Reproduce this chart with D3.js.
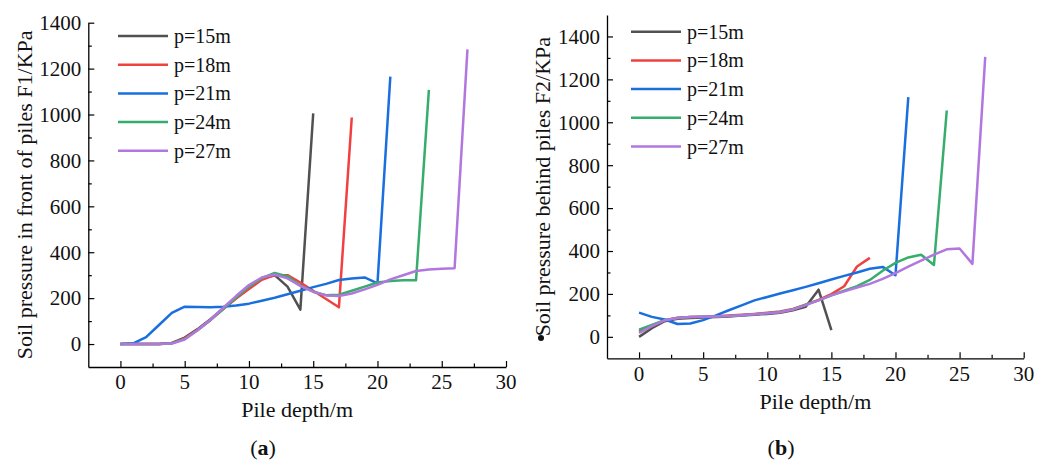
<!DOCTYPE html>
<html>
<head>
<meta charset="utf-8">
<script src="https://cdn.jsdelivr.net/npm/d3@7"></script>
<style>
  html, body { margin: 0; padding: 0; background: #fff; }
  svg { display: block; font-family: "Liberation Serif", "Times New Roman", serif; }
</style>
</head>
<body>
<svg id="chart" width="1057" height="464"></svg>
<script>
// Series names (pile length) and colours
const seriesNames = ["p=15m", "p=18m", "p=21m", "p=24m", "p=27m"];
const seriesColors = ["#515151", "#F14040", "#1A6FDF", "#37AD6B", "#B177DE"];

// Panel (a): soil pressure in front of piles F1 (kPa), one value per metre of depth from 0 m
const frontP15 = [0, 0, 0, 0, 5, 28, 65, 108, 155, 200, 245, 285, 300, 250, 150, 1005];
const frontP18 = [0, 0, 0, 0, 4, 25, 62, 105, 152, 198, 240, 280, 300, 300, 268, 232, 196, 160, 987];
const frontP21 = [0, 3, 30, 83, 136, 163, 161, 160, 162, 168, 176, 189, 202, 217, 232, 248, 262, 279, 286, 290, 264, 1165];
const frontP24 = [0, 0, 0, 0, 3, 22, 60, 104, 152, 202, 250, 287, 310, 295, 255, 228, 213, 215, 232, 250, 268, 275, 278, 278, 1107];
const frontP27 = [0, 0, 0, 0, 2, 20, 60, 106, 158, 209, 257, 290, 303, 286, 253, 228, 212, 209, 220, 238, 258, 282, 300, 318, 325, 328, 330, 1284];

// Panel (b): soil pressure behind piles F2 (kPa), one value per metre of depth from 0 m
const behindP15 = [0, 40, 73, 84, 88, 90, 92, 95, 99, 103, 107, 112, 124, 140, 220, 31];
const behindP18 = [25, 52, 78, 89, 93, 94, 96, 99, 103, 107, 112, 118, 130, 150, 172, 199, 236, 328, 368];
const behindP21 = [113, 93, 81, 60, 62, 78, 100, 124, 147, 170, 186, 202, 217, 233, 250, 267, 284, 300, 317, 326, 287, 1117];
const behindP24 = [33, 55, 78, 88, 92, 94, 95, 97, 101, 105, 110, 116, 128, 150, 170, 193, 215, 236, 265, 308, 345, 370, 383, 335, 1055];
const behindP27 = [18, 50, 77, 88, 93, 94, 95, 97, 101, 105, 110, 115, 127, 148, 170, 193, 212, 230, 247, 270, 297, 327, 355, 383, 408, 412, 340, 1305];

// Axis ticks
const xTicks = [0, 5, 10, 15, 20, 25, 30];
const xMinorTicks = [2.5, 7.5, 12.5, 17.5, 22.5, 27.5];
const yTicksA = [0, 200, 400, 600, 800, 1000, 1200, 1400];
const yMinorA = [100, 300, 500, 700, 900, 1100, 1300];
const yTicksB = [0, 200, 400, 600, 800, 1000, 1200, 1400];
const yMinorB = [100, 300, 500, 700, 900, 1100, 1300];

const xDomain = [-2.5, 30];

const panels = [
  {
    label: "a",
    yTitle: "Soil pressure in front of piles F1/KPa",
    series: [frontP15, frontP18, frontP21, frontP24, frontP27],
    yDomain: [-100, 1400], yTicks: yTicksA, yMinor: yMinorA,
    left: 88.3, right: 506, top: 22.7, bottom: 367,
    xTickY: 389, xTitleY: 417, yTitleX: 24,
    legendX: 118, legendY: 36, labelX: 263
  },
  {
    label: "b",
    yTitle: "Soil pressure behind piles F2/KPa",
    series: [behindP15, behindP18, behindP21, behindP24, behindP27],
    yDomain: [-100, 1500], yTicks: yTicksB, yMinor: yMinorB,
    left: 607, right: 1023.7, top: 15, bottom: 358.3,
    xTickY: 381, xTitleY: 409, yTitleX: 542,
    legendX: 631, legendY: 31.7, labelX: 781, dot: true
  }
];

const svg = d3.select("#chart");

panels.forEach(pn => {
  const g = svg.append("g");
  const x = d3.scaleLinear().domain(xDomain).range([pn.left, pn.right]);
  const y = d3.scaleLinear().domain(pn.yDomain).range([pn.bottom, pn.top]);

  // data lines
  const line = d3.line().x(d => x(d[0])).y(d => y(d[1]));
  pn.series.forEach((vals, i) => {
    g.append("path")
      .datum(vals.map((v, k) => [k, v]))
      .attr("fill", "none")
      .attr("stroke", seriesColors[i])
      .attr("stroke-width", 2.5)
      .attr("stroke-linejoin", "round")
      .attr("d", line);
  });

  // bottom axis: major and minor ticks point inward
  const xAxis = g.append("g").attr("transform", `translate(0,${pn.bottom})`);
  xAxis.call(d3.axisBottom(x).tickValues(xTicks).tickSizeInner(-6).tickSizeOuter(0).tickFormat(() => ""));
  xAxis.append("g").call(d3.axisBottom(x).tickValues(xMinorTicks).tickSizeInner(-3.5).tickSizeOuter(0).tickFormat(() => ""))
    .select(".domain").remove();
  xAxis.selectAll("path.domain").attr("stroke", "#000").attr("stroke-width", 1.3);
  xAxis.selectAll("line").attr("stroke", "#000").attr("stroke-width", 1.2);

  // left axis
  const yAxis = g.append("g").attr("transform", `translate(${pn.left},0)`);
  yAxis.call(d3.axisLeft(y).tickValues(pn.yTicks).tickSizeInner(-6).tickSizeOuter(0).tickFormat(() => ""));
  yAxis.append("g").call(d3.axisLeft(y).tickValues(pn.yMinor).tickSizeInner(-3.5).tickSizeOuter(0).tickFormat(() => ""))
    .select(".domain").remove();
  yAxis.selectAll("path.domain").attr("stroke", "#000").attr("stroke-width", 1.3);
  yAxis.selectAll("line").attr("stroke", "#000").attr("stroke-width", 1.2);

  // tick labels
  g.selectAll(".xl").data(xTicks).enter().append("text")
    .attr("x", d => x(d)).attr("y", pn.xTickY)
    .attr("text-anchor", "middle").attr("font-size", 21).attr("fill", "#111")
    .text(d => d);
  g.selectAll(".yl").data(pn.yTicks).enter().append("text")
    .attr("x", pn.left - 7).attr("y", d => y(d)).attr("dy", "0.35em")
    .attr("text-anchor", "end").attr("font-size", 21).attr("fill", "#111")
    .text(d => d);

  // axis titles
  g.append("text")
    .attr("x", (pn.left + pn.right) / 2).attr("y", pn.xTitleY)
    .attr("text-anchor", "middle").attr("font-size", 22).attr("fill", "#111")
    .text("Pile depth/m");
  const yMid = (pn.top + pn.bottom) / 2;
  g.append("text")
    .attr("transform", `translate(${pn.yTitleX},${yMid}) rotate(-90)`)
    .attr("dy", "0.35em")
    .attr("text-anchor", "middle").attr("font-size", 22).attr("fill", "#111")
    .text(pn.yTitle);
  if (pn.dot) {
    g.append("circle").attr("cx", pn.yTitleX - 1).attr("cy", 338).attr("r", 3).attr("fill", "#111");
  }

  // legend
  seriesNames.forEach((name, i) => {
    const ly = pn.legendY + i * 28.7;
    g.append("line")
      .attr("x1", pn.legendX).attr("x2", pn.legendX + 50)
      .attr("y1", ly).attr("y2", ly)
      .attr("stroke", seriesColors[i]).attr("stroke-width", 2.5);
    g.append("text")
      .attr("x", pn.legendX + 56).attr("y", ly + 7)
      .attr("font-size", 20).attr("fill", "#111")
      .text(name);
  });

  // panel label
  const lab = g.append("text")
    .attr("x", pn.labelX).attr("y", 455)
    .attr("text-anchor", "middle").attr("font-size", 22).attr("fill", "#111");
  lab.append("tspan").text("(");
  lab.append("tspan").attr("font-weight", "bold").text(pn.label);
  lab.append("tspan").text(")");
});
</script>
</body>
</html>
